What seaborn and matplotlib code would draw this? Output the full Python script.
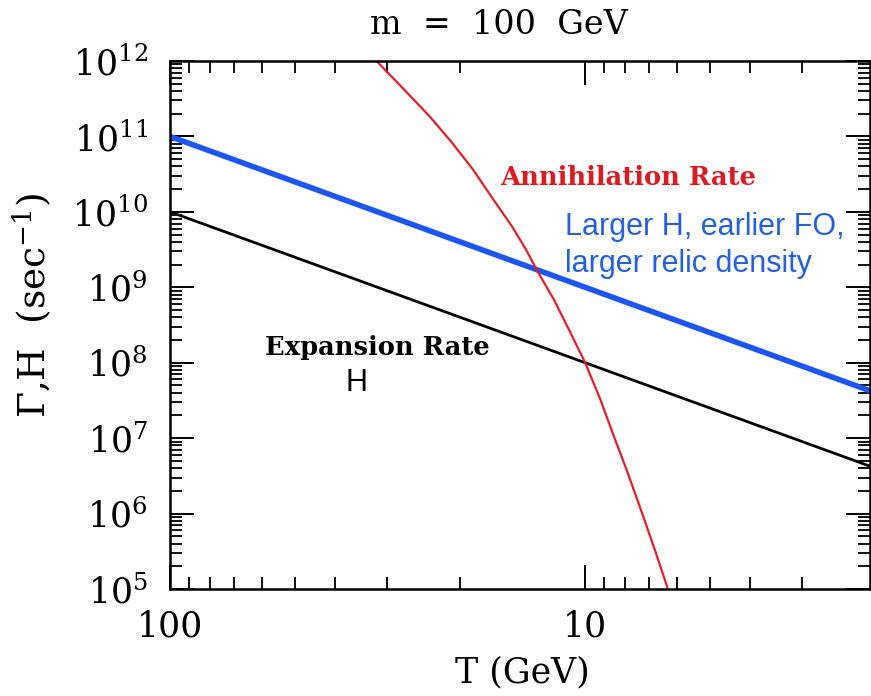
import numpy as np
import pandas as pd
import matplotlib
matplotlib.use("Agg")
import matplotlib.pyplot as plt
from matplotlib.ticker import LogLocator, FixedLocator, FixedFormatter, NullFormatter
import seaborn as sns

# Temperatures (GeV) and rates (1/sec)
T_hubble = [100.0, 10.0, 2.0]
H_standard = [1.0e10, 1.0e8, 4.0e6]
H_larger = [1.0e11, 1.0e9, 4.0e7]

T_annihilation = [31.8, 27.2, 23.6, 20.9, 18.6, 16.7, 15.0, 13.9, 13.0, 11.9,
                  10.96, 10.0, 9.2, 8.55, 7.96, 7.21, 6.74, 6.32]
Gamma_annihilation = [1.0e12, 4.1e11, 1.8e11, 8.2e10, 3.6e10, 1.5e10, 6.4e9, 3.2e9,
                      1.6e9, 6.9e8, 2.8e8, 1.0e8, 3.3e7, 1.1e7, 3.9e6, 8.5e5, 2.9e5, 1.0e5]

x_ticks = [100, 10]
x_tick_labels = ["100", "10"]

sns.set_style("ticks")
plt.rcParams["font.family"] = ["DejaVu Serif"]
plt.rcParams["mathtext.fontset"] = "dejavuserif"
for key in ["text.color", "axes.labelcolor", "xtick.color", "ytick.color", "axes.edgecolor"]:
    plt.rcParams[key] = "black"

W, H = 871, 696
fig = plt.figure(figsize=(W / 100, H / 100), dpi=100)


def fx(px):
    return px / W


def fy(py):
    return 1 - py / H


ax = fig.add_axes([fx(170), fy(589), fx(870) - fx(170), fy(61) - fy(589)])
ax.set_xscale("log")
ax.set_yscale("log")

hubble = pd.DataFrame({"T": T_hubble, "standard": H_standard, "larger": H_larger})
ann = pd.DataFrame({"T": T_annihilation, "Gamma": Gamma_annihilation})

sns.lineplot(data=hubble, x="T", y="standard", ax=ax, color="black",
             linewidth=2.0, estimator=None, sort=False)
sns.lineplot(data=hubble, x="T", y="larger", ax=ax, color="#1d55f2",
             linewidth=4.0, estimator=None, sort=False)
sns.lineplot(data=ann, x="T", y="Gamma", ax=ax, color="#e3202c",
             linewidth=1.6, estimator=None, sort=False,
             solid_joinstyle="round")

ax.set_xlim(100, 2.06)
ax.set_ylim(1e5, 1e12)
ax.set_xlabel("")
ax.set_ylabel("")

ax.xaxis.set_major_locator(FixedLocator(x_ticks))
ax.xaxis.set_major_formatter(FixedFormatter(x_tick_labels))
ax.xaxis.set_minor_locator(LogLocator(base=10, subs=np.arange(2, 10)))
ax.xaxis.set_minor_formatter(NullFormatter())
ax.yaxis.set_major_locator(LogLocator(base=10, numticks=20))
ax.yaxis.set_minor_locator(LogLocator(base=10, subs=np.arange(2, 10), numticks=20))
ax.yaxis.set_minor_formatter(NullFormatter())

ax.tick_params(which="both", direction="in", top=True, right=True, color="black")
ax.tick_params(which="major", length=17, width=1.4, labelsize=25, pad=15)
ax.tick_params(which="minor", length=8.5, width=1.3)
ax.tick_params(axis="y", which="major", pad=16)
for s in ax.spines.values():
    s.set_linewidth(1.8)
    s.set_color("black")

fig.text(fx(499), fy(25), "m  =  100  GeV", fontsize=24, ha="center", va="center")
fig.text(fx(522), fy(672), "T (GeV)", fontsize=25, ha="center", va="center")
fig.text(fx(32), fy(305), r"$\Gamma$,H  (sec$^{-1}$)", fontsize=27,
         rotation=90, ha="center", va="center")

fig.text(fx(500), fy(185), "Annihilation Rate", fontsize=18.5, fontweight="bold",
         color="#dc1a24", ha="left", va="baseline")
fig.text(fx(265), fy(355), "Expansion Rate", fontsize=18.5, fontweight="bold",
         color="black", ha="left", va="baseline")
fig.text(fx(356), fy(391), "H", fontsize=22, family=["Liberation Sans"],
         color="black", ha="center", va="baseline")
fig.text(fx(565), fy(235), "Larger H, earlier FO,", fontsize=22,
         family=["Liberation Sans"], color="#2660e0", ha="left", va="baseline")
fig.text(fx(565), fy(272), "larger relic density", fontsize=22,
         family=["Liberation Sans"], color="#2660e0", ha="left", va="baseline")

fig.savefig("out.png", dpi=100, facecolor="white")
